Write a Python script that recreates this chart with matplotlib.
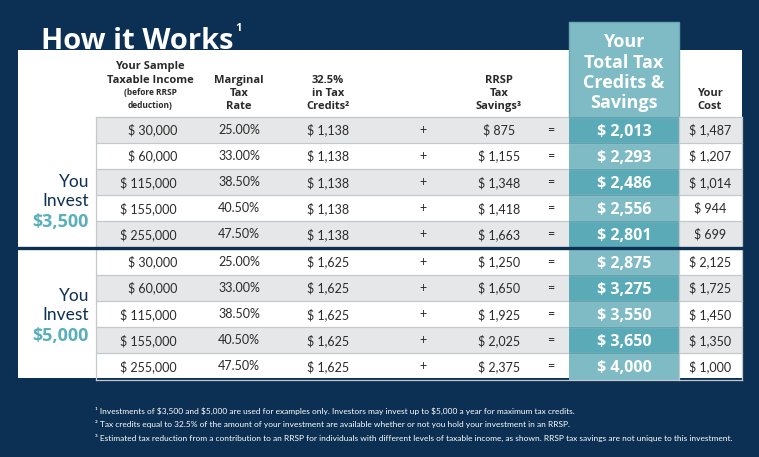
import matplotlib
matplotlib.use("Agg")
import matplotlib.pyplot as plt
from matplotlib.patches import Rectangle
from matplotlib import font_manager

# ---------------- data ----------------
incomes = [30000, 60000, 115000, 155000, 255000]
rates = [25.00, 33.00, 38.50, 40.50, 47.50]
investments = [3500, 5000]
credits = [1138, 1625]
rrsp_savings = [[875, 1155, 1348, 1418, 1663],
                [1250, 1650, 1925, 2025, 2375]]
totals = [[2013, 2293, 2486, 2556, 2801],
          [2875, 3275, 3550, 3650, 4000]]
costs = [[1487, 1207, 1014, 944, 699],
         [2125, 1725, 1450, 1350, 1000]]
footnotes = [
    "\u00b9 Investments of $3,500 and $5,000 are used for examples only. Investors may invest up to $5,000 a year for maximum tax credits.",
    "\u00b2 Tax credits equal to 32.5% of the amount of your investment are available whether or not you hold your investment in an RRSP.",
    "\u00b3 Estimated tax reduction from a contribution to an RRSP for individuals with different levels of taxable income, as shown. RRSP tax savings are not unique to this investment.",
]

# ---------------- style ----------------
NAVY = "#0b3053"
TEAL_D = "#5aabb7"
TEAL_L = "#7fbbc5"
TEAL_T = "#5aafbb"
GRAY = "#e6e7e8"
LINE = "#c3c8cc"
TXT = "#2a2a2a"

avail = {f.name for f in font_manager.fontManager.ttflist}
FONT = "Lato" if "Lato" in avail else "DejaVu Sans"
BOLD = "Open Sans" if "Open Sans" in avail else FONT
plt.rcParams["font.family"] = [FONT, "DejaVu Sans"]
BF = [BOLD, "DejaVu Sans"]

fig = plt.figure(figsize=(7.59, 4.57), dpi=100, facecolor=NAVY)
ax = fig.add_axes([0, 0, 1, 1])
ax.set_xlim(0, 759)
ax.set_ylim(457, 0)
ax.axis("off")
ax.set_facecolor(NAVY)


def btext(x, yc, s, size, color, ha="center"):
    """Bold text whose cap height is centred on yc (pixel coords)."""
    px = size * 100 / 72.0
    ax.text(x, yc + 0.357 * px, s, color=color, fontsize=size, fontweight="bold",
            family=BF, ha=ha, va="baseline", zorder=5)


# white panel
ax.add_patch(Rectangle((18, 50), 724, 328, facecolor="white", edgecolor="none", zorder=1))

# title
ax.text(41, 49, "How it Works", color="white", fontsize=21, fontweight="bold", family=BF,
        ha="left", va="baseline", zorder=5)
ax.text(235.5, 31, "1", color="white", fontsize=8, fontweight="bold", family=BF,
        ha="left", va="baseline", zorder=5)

# teal header box
ax.add_patch(Rectangle((569, 22), 110, 95, facecolor=TEAL_L, edgecolor="#6aa9b3", lw=1, zorder=3))
for t, y in zip(["Your", "Total Tax", "Credits &", "Savings"], [41, 61.5, 81.5, 102]):
    btext(624, y, t, 13, "white")

# column headers
def hdr(x, lines, ys, size=8):
    for t, y in zip(lines, ys):
        btext(x, y, t, size, TXT)

hdr(150, ["Your Sample", "Taxable Income"], [65, 79])
hdr(150, ["(before RRSP", "deduction)"], [92.5, 105], size=6)
hdr(239, ["Marginal", "Tax", "Rate"], [79, 92, 105])
hdr(328, ["32.5%", "in Tax", "Credits\u00b2"], [79, 92, 105])
hdr(499, ["RRSP", "Tax", "Savings\u00b3"], [79, 92, 105])
hdr(710, ["Your", "Cost"], [92, 105])

# rows
x_left, x_right = 96, 742
row_h = 26.1
y_start = 117
col_income = 177
col_rate = 239
col_credit = 328
col_plus = 423
col_rrsp = 499
col_eq = 551
col_total = 624
col_cost = 710

def money(v):
    return "$ {:,}".format(v)

k = 0
for g in range(len(investments)):
    for i in range(len(incomes)):
        top = y_start + row_h * k + (1.5 if g == 1 else 0)
        mid = top + row_h / 2
        shaded = (k % 2 == 0)
        if shaded:
            ax.add_patch(Rectangle((x_left, top), x_right - x_left, row_h,
                                   facecolor=GRAY, edgecolor="none", zorder=2))
        ax.add_patch(Rectangle((569, top), 110, row_h,
                               facecolor=TEAL_D if shaded else TEAL_L, edgecolor="none", zorder=3))
        ax.plot([x_left, x_right], [top, top], color=LINE, lw=0.9, zorder=3.5)
        ax.plot([569, 679], [top, top], color="#4f9ca8", lw=0.6, zorder=3.6)
        ax.text(col_income, mid, money(incomes[i]), color=TXT, fontsize=9, ha="right", va="center", zorder=5)
        ax.text(col_rate, mid, "{:.2f}%".format(rates[i]), color=TXT, fontsize=9, ha="center", va="center", zorder=5)
        ax.text(col_credit, mid, money(credits[g]), color=TXT, fontsize=9, ha="center", va="center", zorder=5)
        ax.text(col_plus, mid, "+", color=TXT, fontsize=9, ha="center", va="center", zorder=5)
        ax.text(col_rrsp, mid, money(rrsp_savings[g][i]), color=TXT, fontsize=9, ha="center", va="center", zorder=5)
        ax.text(col_eq, mid, "=", color=TXT, fontsize=9, ha="center", va="center", zorder=5)
        btext(col_total, mid, money(totals[g][i]), 11.5, "white")
        ax.text(col_cost, mid, money(costs[g][i]), color=TXT, fontsize=9, ha="center", va="center", zorder=5)
        k += 1

bottom = y_start + row_h * k + 1.5
ax.plot([x_left, x_right], [bottom, bottom], color=LINE, lw=0.9, zorder=3.5)
# vertical separators
ax.plot([x_left, x_left], [y_start, bottom], color=LINE, lw=0.9, zorder=3.5)
ax.plot([679, 679], [y_start, bottom], color=LINE, lw=0.9, zorder=3.6)
ax.plot([x_right, x_right], [y_start, bottom], color=LINE, lw=0.9, zorder=3.5)

# group divider
div_y = y_start + row_h * 5 + 0.5
ax.plot([18, 742], [div_y, div_y], color=NAVY, lw=2.4, zorder=4)

# group labels
label_ys = [(182, 201, 221), (296, 315, 335)]
for g, inv in enumerate(investments):
    y1, y2, y3 = label_ys[g]
    ax.text(89, y1, "You", color=NAVY, fontsize=12.5, ha="right", va="center", zorder=5)
    ax.text(89, y2, "Invest", color=NAVY, fontsize=12.5, ha="right", va="center", zorder=5)
    btext(89, y3, "${:,}".format(inv), 13, TEAL_T, ha="right")

# footnotes
for t, y in zip(footnotes, [411, 424, 438]):
    ax.text(95, y, t, color="white", fontsize=6.0, ha="left", va="center", zorder=5)

fig.savefig("out.png", dpi=100, facecolor=NAVY)
